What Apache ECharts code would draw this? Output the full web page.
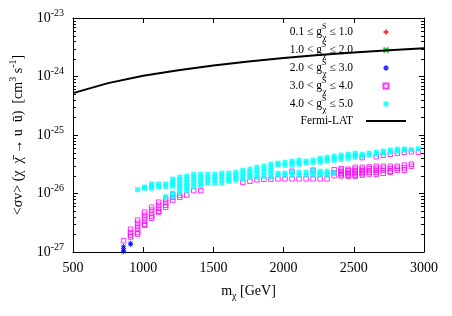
<!DOCTYPE html>
<html><head><meta charset="utf-8">
<script src="https://cdn.jsdelivr.net/npm/echarts@6.0.0/dist/echarts.min.js"></script>
<style>html,body{margin:0;padding:0;background:#fff}#c{width:452px;height:316px}</style>
</head><body><div id="c"></div>
<script>
const FONT = '"Liberation Serif", "DejaVu Serif", serif';

// ---- data ----
const seriesNames = ['0.1 ≤ g ≤ 1.0', '1.0 < g ≤ 2.0', '2.0 < g ≤ 3.0', '3.0 < g ≤ 4.0', '4.0 < g ≤ 5.0', 'Fermi-LAT'];
const legendLabels = [
  '0.1 ≤ g{s|S}{c|χ} ≤ 1.0',
  '1.0 < g{s|S}{c|χ} ≤ 2.0',
  '2.0 < g{s|S}{c|χ} ≤ 3.0',
  '3.0 < g{s|S}{c|χ} ≤ 4.0',
  '4.0 < g{s|S}{c|χ} ≤ 5.0',
  '{f|Fermi-LAT}'
];

const fermiMass = [500, 750, 1000, 1250, 1500, 1750, 2000, 2250, 2500, 2750, 3000];
const fermiSigma = [5.2e-25, 7.7e-25, 1.03e-24, 1.28e-24, 1.54e-24, 1.8e-24, 2.07e-24, 2.33e-24, 2.58e-24, 2.82e-24, 3.05e-24];

const redCols = [];
const greenCols = [];

const blueCols = [
  [860, [1.25e-27, 1.15e-27, 1.06e-27, 1.01e-27]],
  [910, [1.42e-27, 1.34e-27]]
];

const magentaCols = [
  [860, [1.56e-27]],
  [910, [2.45e-27, 2.15e-27, 1.93e-27, 1.8e-27]],
  [960, [3.5e-27, 3.1e-27, 2.75e-27, 2.45e-27, 2.15e-27, 2.02e-27]],
  [1010, [4.8e-27, 4.25e-27, 3.8e-27, 3.35e-27, 2.98e-27, 2.88e-27]],
  [1060, [5.83e-27, 5.2e-27, 4.6e-27, 4.1e-27, 3.78e-27]],
  [1110, [7.1e-27, 6.3e-27, 5.6e-27, 4.98e-27, 4.8e-27]],
  [1160, [8.0e-27, 7.1e-27, 6.3e-27, 5.83e-27]],
  [1210, [9.7e-27, 8.6e-27, 7.7e-27]],
  [1260, [9.4e-27, 8.6e-27]],
  [1310, [9.4e-27]],
  [1360, [1.12e-26]],
  [1410, [1.12e-26]],
  [1710, [1.56e-26]],
  [1760, [1.62e-26]],
  [1810, [1.72e-26]],
  [1860, [1.75e-26]],
  [1910, [1.76e-26]],
  [1960, [1.78e-26]],
  [2010, [1.78e-26]],
  [2060, [2.4e-26, 1.78e-26]],
  [2110, [1.78e-26]],
  [2160, [1.78e-26]],
  [2210, [2.5e-26, 1.78e-26]],
  [2260, [1.78e-26]],
  [2310, [1.78e-26]],
  [2360, [2.55e-26, 2.27e-26, 2.02e-26]],
  [2410, [2.66e-26, 2.5e-26, 2.36e-26, 2.22e-26, 2.1e-26, 2.0e-26]],
  [2460, [2.6e-26, 2.45e-26, 2.3e-26, 2.18e-26, 2.06e-26, 1.98e-26]],
  [2510, [2.8e-26, 2.6e-26, 2.45e-26, 2.3e-26, 2.18e-26, 2.06e-26, 1.98e-26]],
  [2560, [4.1e-26, 2.8e-26, 2.6e-26, 2.45e-26, 2.3e-26, 2.18e-26, 2.06e-26]],
  [2610, [2.85e-26, 2.65e-26, 2.45e-26, 2.3e-26, 2.15e-26]],
  [2660, [4.26e-26, 2.92e-26, 2.7e-26, 2.5e-26, 2.3e-26, 2.14e-26]],
  [2710, [4.5e-26, 2.92e-26, 2.7e-26, 2.48e-26, 2.22e-26]],
  [2760, [4.7e-26, 2.92e-26, 2.65e-26, 2.4e-26, 2.3e-26]],
  [2810, [4.88e-26, 2.92e-26, 2.7e-26, 2.5e-26]],
  [2860, [5.08e-26, 3.05e-26, 2.75e-26, 2.5e-26]],
  [2910, [5.18e-26, 3.17e-26, 2.92e-26]],
  [2960, [5.08e-26]]
];

const cyanCols = [
  [960, [1.16e-26]],
  [1010, [1.29e-26, 1.23e-26]],
  [1060, [1.45e-26, 1.34e-26, 1.23e-26]],
  [1110, [1.45e-26, 1.31e-26]],
  [1160, [1.45e-26, 1.31e-26, 8.8e-27]],
  [1210, [1.76e-26, 1.59e-26, 1.44e-26, 1.34e-26, 1.01e-26, 9.0e-27]],
  [1260, [1.9e-26, 1.7e-26, 1.5e-26, 1.34e-26, 1.19e-26, 1.05e-26]],
  [1310, [1.98e-26, 1.76e-26, 1.56e-26, 1.39e-26, 1.24e-26, 1.14e-26]],
  [1360, [2.14e-26, 1.9e-26, 1.7e-26, 1.5e-26, 1.29e-26]],
  [1410, [2.14e-26, 1.9e-26, 1.7e-26, 1.5e-26, 1.39e-26]],
  [1460, [2.14e-26, 1.9e-26, 1.7e-26, 1.5e-26]],
  [1510, [2.14e-26, 1.9e-26, 1.7e-26, 1.5e-26]],
  [1560, [2.22e-26, 1.98e-26, 1.76e-26, 1.5e-26]],
  [1610, [2.22e-26, 1.98e-26, 1.76e-26, 1.62e-26]],
  [1660, [2.31e-26, 2.06e-26, 1.83e-26, 1.69e-26]],
  [1710, [2.5e-26, 2.22e-26, 1.98e-26, 1.76e-26]],
  [1760, [2.6e-26, 2.31e-26, 2.06e-26, 1.9e-26]],
  [1810, [2.81e-26, 2.5e-26, 2.22e-26, 1.9e-26]],
  [1860, [2.93e-26, 2.6e-26, 2.31e-26, 1.98e-26]],
  [1910, [3.17e-26, 2.81e-26, 2.5e-26, 2.22e-26, 1.9e-26]],
  [1960, [3.3e-26, 3.05e-26, 2.22e-26, 2.06e-26]],
  [2010, [3.43e-26, 3.05e-26, 2.22e-26, 2.06e-26]],
  [2060, [3.57e-26, 3.3e-26, 3.05e-26, 2.31e-26, 2.06e-26]],
  [2110, [3.71e-26, 3.43e-26, 3.17e-26, 2.31e-26, 2.06e-26]],
  [2160, [3.57e-26, 3.3e-26, 2.31e-26, 2.06e-26]],
  [2210, [3.71e-26, 3.4e-26, 2.5e-26, 2.22e-26, 2.06e-26]],
  [2260, [4.0e-26, 3.7e-26, 3.43e-26, 2.4e-26, 2.2e-26, 2.06e-26]],
  [2310, [4.17e-26, 3.85e-26, 3.57e-26, 2.4e-26, 2.2e-26, 2.06e-26]],
  [2360, [4.35e-26, 4.0e-26, 3.71e-26, 2.27e-26]],
  [2410, [4.52e-26, 4.17e-26, 3.85e-26]],
  [2460, [4.7e-26, 4.35e-26, 4.0e-26]],
  [2510, [4.88e-26, 4.5e-26, 4.17e-26]],
  [2560, [4.7e-26, 4.35e-26]],
  [2610, [4.88e-26, 4.52e-26]],
  [2660, [5.08e-26, 4.7e-26]],
  [2710, [5.28e-26, 4.88e-26]],
  [2760, [5.5e-26, 5.08e-26]],
  [2810, [5.72e-26, 5.28e-26]],
  [2860, [5.72e-26, 5.5e-26]],
  [2910, [5.61e-26]],
  [2960, [5.83e-26]]
];

const yMin = 1e-27, yMax = 1e-23;
const yDecades = [-27, -26, -25, -24];
const yMinorMult = [2, 3, 4, 5, 6, 7, 8, 9];

// ---- build ----
// The log axis works in units of 1e-27 cm^3 s^-1 to avoid ECharts' 20-digit tick rounding.
const UNIT = 1e-27;
const UNIT_EXP = -27;
function toAxis(v) { return v / UNIT; }
function flatten(cols) {
  const out = [];
  cols.forEach(function (c) { c[1].forEach(function (v) { out.push([c[0], toAxis(v)]); }); });
  return out;
}
const minorTicks = [];
yDecades.forEach(function (d) { yMinorMult.forEach(function (k) { minorTicks.push([500, toAxis(k * Math.pow(10, d))]); }); });

const SQ = 'path://M0,0L10,0L10,10L0,10Z';
const PLUS = 'path://M5,0L5,10M0,5L10,5';
const CROSS = 'path://M0,0L10,10M0,10L10,0';
const STAR = 'path://M5,0L5,10M0,5L10,5M1.5,1.5L8.5,8.5M1.5,8.5L8.5,1.5';

const chart = echarts.init(document.getElementById('c'), null, { renderer: 'canvas' });

const axisCommon = {
  axisLine: { show: true, onZero: false, lineStyle: { color: '#000', width: 1 } },
  axisTick: { show: true, inside: true, length: 5, lineStyle: { color: '#000', width: 1 } },
  splitLine: { show: false },
  minorTick: { show: false }
};

const option = {
  animation: false,
  backgroundColor: '#fff',
  textStyle: { fontFamily: FONT },
  grid: { left: 73, top: 18, width: 351, height: 234, outerBoundsMode: 'none', containLabel: false },
  legend: {
    orient: 'vertical', align: 'right', right: 45, top: 22, padding: 0,
    itemGap: -2, itemWidth: 40, itemHeight: 5,
    data: seriesNames,
    selectedMode: false,
    formatter: function (name) { return legendLabels[seriesNames.indexOf(name)]; },
    textStyle: {
      fontFamily: FONT, fontSize: 11.5, color: '#000', lineHeight: 14, padding: [0, 8, 0, 0],
      rich: {
        s: { fontFamily: FONT, fontSize: 8, lineHeight: 8, padding: [0, 0, 10, 0], color: '#000' },
        c: { fontFamily: FONT, fontSize: 9, lineHeight: 9, width: 0.1, padding: [11, 0, 0, 0], color: '#000' },
        f: { fontFamily: FONT, fontSize: 11.5, lineHeight: 14, padding: [3, 0, 3, 0], color: '#000' }
      }
    }
  },
  xAxis: [
    Object.assign({}, axisCommon, {
      type: 'value', min: 500, max: 3000, interval: 500, position: 'bottom',
      axisLabel: { color: '#000', fontFamily: FONT, fontSize: 14, margin: 9, formatter: function (v) { return String(v); } },
      name: 'm{sub|χ} [GeV]', nameLocation: 'middle', nameGap: 30, nameMoveOverlap: false,
      nameTextStyle: {
        color: '#000', fontFamily: FONT, fontSize: 14,
        rich: { sub: { fontFamily: FONT, fontSize: 10, padding: [9, 0, 0, 0], color: '#000' } }
      }
    }),
    Object.assign({}, axisCommon, {
      type: 'value', min: 500, max: 3000, interval: 500, position: 'top',
      axisLabel: { show: false }
    })
  ],
  yAxis: [
    Object.assign({}, axisCommon, {
      type: 'log', logBase: 10, min: toAxis(yMin), max: toAxis(yMax), position: 'left',
      axisLabel: {
        color: '#000', fontFamily: FONT, fontSize: 14, margin: 9,
        formatter: function (v) { return '10{sup|' + (Math.round(Math.log10(v)) + UNIT_EXP) + '}'; },
        rich: { sup: { fontFamily: FONT, fontSize: 10, lineHeight: 10, padding: [0, 0, 10, 0], color: '#000' } }
      },
      name: '<σv> (χ  χ\u0304 → u  u\u0304)  [cm{sup|3} s{sup|-1}]',
      nameLocation: 'middle', nameGap: 48, nameRotate: 90, nameMoveOverlap: false,
      nameTextStyle: {
        color: '#000', fontFamily: FONT, fontSize: 14,
        rich: { sup: { fontFamily: FONT, fontSize: 10, lineHeight: 10, padding: [0, 0, 9, 0], color: '#000' } }
      }
    }),
    Object.assign({}, axisCommon, {
      type: 'log', logBase: 10, min: toAxis(yMin), max: toAxis(yMax), position: 'right',
      axisLabel: { show: false }
    })
  ],
  series: [
    {
      type: 'custom', silent: true, xAxisIndex: 0, yAxisIndex: 0, clip: false, z: 5,
      data: minorTicks,
      renderItem: function (params, api) {
        const cs = params.coordSys;
        const y = Math.round(api.coord([500, api.value(1)])[1]) + 0.5;
        return {
          type: 'group', children: [
            { type: 'line', shape: { x1: cs.x, y1: y, x2: cs.x + 3, y2: y }, style: { stroke: '#000', lineWidth: 1 } },
            { type: 'line', shape: { x1: cs.x + cs.width - 3, y1: y, x2: cs.x + cs.width, y2: y }, style: { stroke: '#000', lineWidth: 1 } }
          ]
        };
      }
    },
    {
      name: seriesNames[0], type: 'scatter', silent: true, symbol: PLUS, symbolSize: 6,
      data: flatten(redCols),
      itemStyle: { color: '#ff0000', borderColor: '#ff0000', borderWidth: 1 }
    },
    {
      name: seriesNames[1], type: 'scatter', silent: true, symbol: CROSS, symbolSize: 6,
      data: flatten(greenCols),
      itemStyle: { color: '#00c000', borderColor: '#00c000', borderWidth: 1 }
    },
    {
      name: seriesNames[2], type: 'scatter', silent: true, symbol: STAR, symbolSize: 5,
      data: flatten(blueCols),
      itemStyle: { color: '#0000ff', borderColor: '#0000ff', borderWidth: 1 }
    },
    {
      name: seriesNames[3], type: 'scatter', silent: true, symbol: SQ, symbolSize: 4.5,
      data: flatten(magentaCols),
      itemStyle: { color: 'rgba(255,0,255,0)', borderColor: '#ff00ff', borderWidth: 1 }
    },
    {
      name: seriesNames[4], type: 'scatter', silent: true, symbol: SQ, symbolSize: 5,
      data: flatten(cyanCols),
      itemStyle: { color: '#00ffff', borderWidth: 0 }
    },
    {
      name: seriesNames[5], type: 'line', silent: true, showSymbol: false, symbol: 'none',
      data: fermiMass.map(function (m, i) { return [m, toAxis(fermiSigma[i])]; }),
      lineStyle: { color: '#000', width: 2 },
      itemStyle: { color: 'rgba(0,0,0,0)', borderColor: 'rgba(0,0,0,0)', borderWidth: 0 }, z: 4
    }
  ]
};
chart.setOption(option);
</script>
</body></html>
